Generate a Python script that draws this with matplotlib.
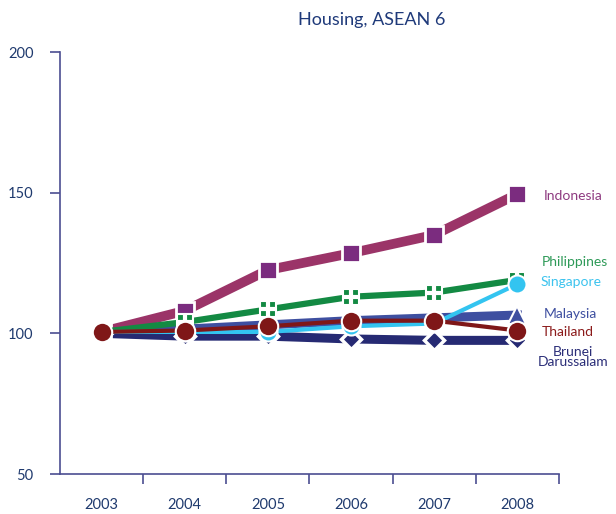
import numpy as np
import matplotlib
matplotlib.use("Agg")
import matplotlib.pyplot as plt

plt.rcParams['font.family'] = ['Lato', 'DejaVu Sans']

years = ["2003", "2004", "2005", "2006", "2007", "2008"]
indonesia = [100.5, 108.0, 122.5, 128.5, 135.0, 149.5]
philippines = [100.5, 104.0, 108.5, 113.0, 114.5, 119.0]
singapore = [100.5, 100.5, 100.5, 102.5, 103.5, 117.5]
malaysia = [100.5, 101.5, 103.0, 104.5, 105.5, 106.5]
thailand = [100.5, 101.0, 102.5, 104.5, 104.5, 101.0]
brunei = [100.0, 99.0, 99.0, 98.0, 97.5, 97.5]

x = np.arange(len(years))

fig = plt.figure(figsize=(6.16, 5.14), dpi=100)
ax = fig.add_axes([60 / 616, 40 / 514, 499 / 616, 422 / 514])

# thick bands first, thin lines on top
ax.plot(x, malaysia, color='#3E4FA0', lw=6.5, marker='^', ms=13,
        mfc='#3E4FA0', mec='white', mew=1.5, zorder=2)
ax.plot(x, brunei, color='#262A73', lw=6.5, marker='D', ms=10,
        mfc='#262A73', mec='white', mew=2.5, zorder=2)
ax.plot(x, indonesia, color='#9B3468', lw=7, marker='s', ms=13,
        mfc='#7B2C7F', mec='white', mew=2, zorder=3)
ax.plot(x, philippines, color='#138A43', lw=4.5, marker='s', ms=12,
        mfc='#138A43', mec='white', mew=1.5, zorder=3)
ax.plot(x, philippines, ls='none', marker='+', ms=11, mec='white', mew=3, zorder=3)
ax.plot(x, singapore, color='#33C4F0', lw=3, marker='o', ms=13,
        mfc='#33C4F0', mec='white', mew=1.5, zorder=4)
ax.plot(x, thailand, color='#7F1718', lw=3, marker='o', ms=14,
        mfc='#7F1718', mec='white', mew=1.5, zorder=5)

ax.set_xlim(-0.5, 5.5)
ax.set_ylim(50, 200)
ax.set_yticks([50, 100, 150, 200])
ax.set_xticks(x)
ax.set_xticklabels(years)
ax.set_xticks(np.arange(0.5, 6.0, 1.0), minor=True)

axis_col = '#4B4E91'
for s in ['top', 'right']:
    ax.spines[s].set_visible(False)
for s in ['left', 'bottom']:
    ax.spines[s].set_color(axis_col)
    ax.spines[s].set_linewidth(1.2)

ax.tick_params(axis='y', length=7, width=1.2, color=axis_col, pad=12,
               labelsize=10.5, labelcolor='#1F3A6E')
ax.tick_params(axis='x', which='major', length=0, pad=17,
               labelsize=10.5, labelcolor='#1F3A6E')
ax.tick_params(axis='x', which='minor', length=7, width=1.2, color=axis_col)

lx = 5.32
ax.text(lx, 148.9, "Indonesia", color='#8E3A80', fontsize=10, va='center', clip_on=False)
ax.text(lx - 0.03, 125.2, "Philippines", color='#2E9A58', fontsize=10, va='center', clip_on=False)
ax.text(lx - 0.04, 118.1, "Singapore", color='#3CC3EE', fontsize=10, va='center', clip_on=False)
ax.text(lx, 106.7, "Malaysia", color='#3E4FA0', fontsize=10, va='center', clip_on=False)
ax.text(lx - 0.03, 100.4, "Thailand", color='#8B1A1A', fontsize=10, va='center', clip_on=False)
ax.text(5.67, 91.5, "Brunei\nDarussalam", color='#2B2E78', fontsize=10, va='center',
        ha='center', linespacing=0.8, clip_on=False)

fig.text(372 / 616, 1 - 20 / 514, "Housing, ASEAN 6", color='#1F3A7A',
         fontsize=13, ha='center', va='center')

fig.savefig('out.png', dpi=100)
